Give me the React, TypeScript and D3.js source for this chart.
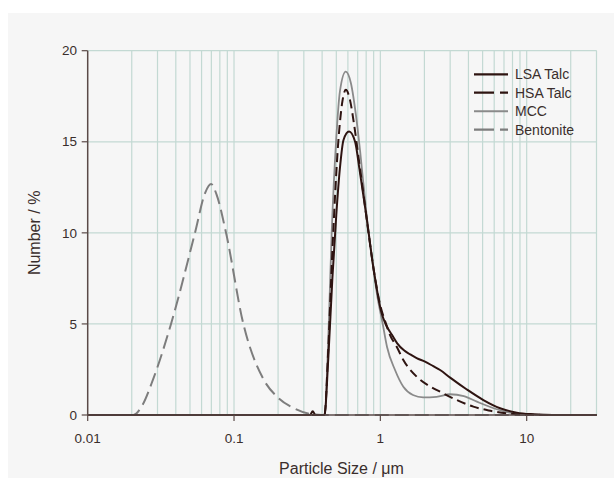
import React from "react";
import * as d3 from "d3";

const xTickValues = [0.01, 0.1, 1, 10];
const xTickLabels = ["0.01", "0.1", "1", "10"];
const yTickValues = [0, 5, 10, 15, 20];
const minorGrid = [0.02, 0.03, 0.04, 0.05, 0.06, 0.07, 0.08, 0.09, 0.1, 0.2, 0.3, 0.4, 0.5, 0.6, 0.7, 0.8, 0.9, 1, 2, 3, 4, 5, 6, 7, 8, 9, 10, 20, 30];

const seriesNames = ["LSA Talc", "HSA Talc", "MCC", "Bentonite"];

const lsaSize = [0.01, 0.3, 0.33, 0.345, 0.36, 0.415, 0.44, 0.47, 0.5, 0.53, 0.56, 0.611, 0.672, 0.72, 0.8, 0.9, 1.02, 1.094, 1.2, 1.3, 1.45, 1.6, 1.77, 2.02, 2.3, 2.56, 3.0, 3.9, 5.06, 6.58, 8.56, 11.1, 15, 30];
const lsaValue = [0, 0, 0, 0.2, 0, 0, 3, 7.5, 11, 13.6, 15.1, 15.56, 15, 13.5, 11, 8, 5.6, 4.94, 4.4, 3.95, 3.55, 3.33, 3.12, 2.93, 2.68, 2.47, 2.05, 1.4, 0.82, 0.37, 0.13, 0.04, 0, 0];

const hsaSize = [0.01, 0.415, 0.44, 0.47, 0.516, 0.55, 0.58, 0.62, 0.66, 0.708, 0.77, 0.83, 0.9, 1.0, 1.094, 1.165, 1.294, 1.436, 1.774, 2.1, 2.56, 3.33, 4.32, 5.5, 7.3, 10, 30];
const hsaValue = [0, 0, 3.5, 9, 15, 17.2, 17.85, 17.3, 16, 14.2, 12, 10, 8, 6, 5, 4.39, 3.75, 3.02, 2.1, 1.65, 1.28, 0.82, 0.46, 0.25, 0.09, 0.01, 0];

const mccSize = [0.01, 0.415, 0.44, 0.465, 0.498, 0.53, 0.58, 0.63, 0.68, 0.727, 0.8, 0.87, 0.95, 1.038, 1.11, 1.26, 1.436, 1.67, 1.96, 2.42, 2.99, 3.72, 4.57, 5.94, 7.64, 10, 30];
const mccValue = [0, 0, 4, 10, 15, 17.8, 18.85, 18.2, 16.5, 14.5, 11.2, 8.8, 6.6, 5, 3.75, 2.47, 1.55, 1.1, 0.97, 1.0, 1.14, 1.04, 0.73, 0.37, 0.13, 0.02, 0];

const bentSize = [0.01, 0.0195, 0.0205, 0.0235, 0.0281, 0.0371, 0.0541, 0.0635, 0.0697, 0.076, 0.0882, 0.1158, 0.158, 0.2, 0.253, 0.336, 0.4, 30];
const bentValue = [0, 0, 0, 0.5, 2, 5, 10, 12.2, 12.68, 12.1, 10, 5, 2, 0.95, 0.4, 0.05, 0, 0];

const W = 614;
const H = 478;
const left = 87.7;
const right = 596.7;
const top = 50.7;
const bottom = 415;

const gridColor = "#c3d9d3";
const axisColor = "#5a4a48";
const textColor = "#3a2e2c";
const font = "Liberation Sans, Arial, sans-serif";

export default function App() {
  const x = d3.scaleLog().domain([0.01, 30.1]).range([left, right]);
  const y = d3.scaleLinear().domain([0, 20]).range([bottom, top]);

  const mk = (sizes: number[], vals: number[]) =>
    d3
      .line<number>()
      .x((i) => x(sizes[i]))
      .y((i) => y(vals[i]))
      .curve(d3.curveMonotoneX)(sizes.map((_, i) => i)) || "";

  const series = [
    { name: seriesNames[0], d: mk(lsaSize, lsaValue), color: "#2e1411", dash: "none", w: 2 },
    { name: seriesNames[1], d: mk(hsaSize, hsaValue), color: "#2e1411", dash: "9 5", w: 2 },
    { name: seriesNames[2], d: mk(mccSize, mccValue), color: "#8a8a8a", dash: "none", w: 1.8 },
    { name: seriesNames[3], d: mk(bentSize, bentValue), color: "#7d7d7d", dash: "14 6", w: 2 },
  ];

  const drawOrder = [3, 2, 1, 0];
  const legendY = [74.3, 92.7, 111.3, 129.7];

  return (
    <svg width={W} height={H} style={{ position: "absolute", left: 0, top: 0 }}>
      <rect x={0} y={0} width={W} height={H} fill="#ffffff" />
      <rect x={8} y={13} width={W - 8} height={H - 13} fill="#f6f6f6" />
      {yTickValues.filter((v) => v > 0).map((v) => (
        <line key={"hy" + v} x1={left} x2={right} y1={y(v)} y2={y(v)} stroke={gridColor} strokeWidth={1.2} />
      ))}
      {minorGrid.map((v) => (
        <line key={"gx" + v} x1={x(v)} x2={x(v)} y1={top} y2={bottom} stroke={gridColor} strokeWidth={1.2} />
      ))}
      {drawOrder.map((i) => (
        <path
          key={series[i].name}
          d={series[i].d}
          fill="none"
          stroke={series[i].color}
          strokeWidth={series[i].w}
          strokeDasharray={series[i].dash}
          strokeLinejoin="round"
        />
      ))}
      <line x1={left} x2={left} y1={top} y2={bottom} stroke={axisColor} strokeWidth={1.5} />
      <line x1={left} x2={right} y1={bottom} y2={bottom} stroke={axisColor} strokeWidth={1.5} />
      {yTickValues.map((v) => (
        <g key={"yt" + v}>
          <line x1={left - 6} x2={left} y1={y(v)} y2={y(v)} stroke={axisColor} strokeWidth={1.2} />
          <text x={77} y={y(v) + 4.7} textAnchor="end" fontFamily={font} fontSize={13.5} fill={textColor}>
            {v}
          </text>
        </g>
      ))}
      {xTickValues.map((v, i) => (
        <g key={"xt" + v}>
          <line x1={x(v)} x2={x(v)} y1={bottom} y2={bottom + 6} stroke={axisColor} strokeWidth={1.2} />
          <text x={x(v)} y={442.5} textAnchor="middle" fontFamily={font} fontSize={13.5} fill={textColor}>
            {xTickLabels[i]}
          </text>
        </g>
      ))}
      <text x={341.5} y={474} textAnchor="middle" fontFamily={font} fontSize={16} fill={textColor}>
        Particle Size / μm
      </text>
      <text
        transform={`translate(39.5, ${(top + bottom) / 2}) rotate(-90)`}
        textAnchor="middle"
        fontFamily={font}
        fontSize={16}
        fill={textColor}
      >
        Number / %
      </text>
      {series.map((s, i) => (
        <g key={"lg" + s.name}>
          <line
            x1={474}
            x2={508}
            y1={legendY[i]}
            y2={legendY[i]}
            stroke={s.color}
            strokeWidth={s.w + 0.3}
            strokeDasharray={s.dash === "none" ? "none" : "20 6"}
          />
          <text x={515} y={legendY[i] + 5} fontFamily={font} fontSize={14} fill={textColor}>
            {s.name}
          </text>
        </g>
      ))}
    </svg>
  );
}
